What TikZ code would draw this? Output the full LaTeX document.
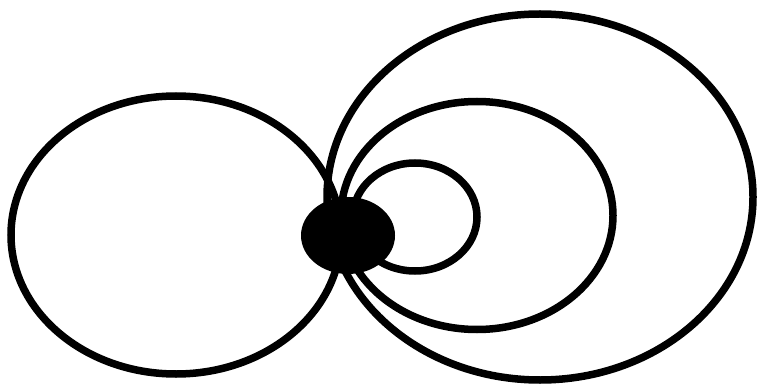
\documentclass[tikz,border=0pt]{standalone}
\usepackage{tikz}
\usetikzlibrary{shapes.geometric}
\tikzstyle{vertex} = [ellipse, fill=black, minimum width=94pt, minimum height=77pt, inner sep=0pt]
\tikzstyle{loopline} = [line width=7.5pt]

\begin{document}
\begin{tikzpicture}[x=1pt, y=-1pt]
    \useasboundingbox (0,0) rectangle (759,387);
    \coordinate (c) at (348,235.5);
    % self-loops, each leaves the vertex and comes back to it
    \draw[loopline] (c) ++(-7,-0.5) arc[start angle=0, end angle=360, x radius=165, y radius=139];
    \draw[loopline] (c) ++(-21,-38.5) arc[start angle=180, end angle=-180, x radius=213, y radius=183];
    \draw[loopline] (c) ++(-7,-20) arc[start angle=180, end angle=-180, x radius=136, y radius=114];
    \draw[loopline] (c) ++(5,-18.5) arc[start angle=180, end angle=-180, x radius=62, y radius=54];
    \node[vertex] (v) at (c) {};
\end{tikzpicture}
\end{document}
